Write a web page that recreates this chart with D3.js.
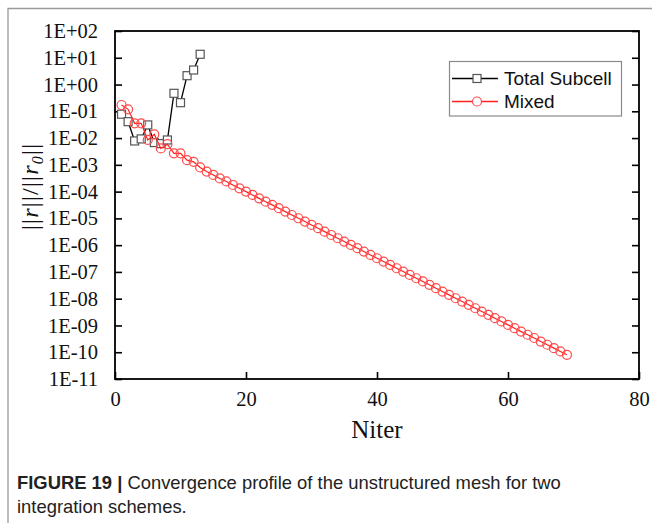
<!DOCTYPE html>
<html>
<head>
<meta charset="utf-8">
<script src="https://cdn.jsdelivr.net/npm/d3@7"></script>
<style>
  html, body { margin: 0; padding: 0; background: #fff; }
  svg { display: block; }
</style>
</head>
<body>
<svg id="chart" width="652" height="523"></svg>
<script>
// Residual history ||r||/||r0|| versus iteration count
const totalIter = [1, 2, 3, 4, 5, 6, 7, 8, 9, 10, 11, 12, 13];
const totalRes = [0.078, 0.041, 0.0078, 0.0093, 0.031, 0.0068, 0.0062, 0.0085, 0.47, 0.21, 2.14, 3.49, 13.5];

const mixedIter = d3.range(1, 70);
const mixedRes = [
  0.172, 0.119, 0.0356, 0.0356, 0.0085, 0.0138, 0.0041, 0.0059, 0.0027, 0.0027,
  0.0015, 0.0013, 8.0e-4, 5.6e-4, 4.2e-4, 3.1e-4, 2.4e-4, 1.77e-4, 1.33e-4, 1.0e-4,
  7.5e-5, 5.6e-5, 4.2e-5, 3.2e-5, 2.4e-5, 1.79e-5, 1.34e-5, 1.01e-5, 7.6e-6, 5.7e-6,
  4.3e-6, 3.2e-6, 2.4e-6, 1.81e-6, 1.36e-6, 1.02e-6, 7.7e-7, 5.75e-7, 4.3e-7, 3.24e-7,
  2.44e-7, 1.83e-7, 1.37e-7, 1.03e-7, 7.7e-8, 5.8e-8, 4.4e-8, 3.3e-8, 2.47e-8, 1.85e-8,
  1.39e-8, 1.04e-8, 7.8e-9, 5.9e-9, 4.4e-9, 3.3e-9, 2.5e-9, 1.87e-9, 1.41e-9, 1.05e-9,
  7.9e-10, 5.9e-10, 4.5e-10, 3.4e-10, 2.5e-10, 1.9e-10, 1.42e-10, 1.07e-10, 8.0e-11
];

const xTicks = [0, 20, 40, 60, 80];
const yTicks = [1e2, 1e1, 1e0, 1e-1, 1e-2, 1e-3, 1e-4, 1e-5, 1e-6, 1e-7, 1e-8, 1e-9, 1e-10, 1e-11];
const seriesNames = ["Total Subcell", "Mixed"];
const captionBold = "FIGURE 19 |";
const captionRest = " Convergence profile of the unstructured mesh for two";
const captionLine2 = "integration schemes.";

const svg = d3.select("#chart");
const plot = { left: 115, right: 639, top: 31, bottom: 379 };

const x = d3.scaleLinear().domain([0, 80]).range([plot.left, plot.right]);
const y = d3.scaleLog().domain([1e-11, 1e2]).range([plot.bottom, plot.top]);

// outer figure frame (top and left edges)
svg.append("path")
  .attr("d", "M8,523 V8.5 H652")
  .attr("fill", "none").attr("stroke", "#9a9a9a").attr("stroke-width", 1.3);

const fmtExp = v => {
  const e = Math.round(Math.log10(v));
  const s = e < 0 ? "-" : "+";
  return "1E" + s + String(Math.abs(e)).padStart(2, "0");
};

const serif = "'Liberation Serif', 'Times New Roman', serif";
const sans = "'Liberation Sans', Arial, Helvetica, sans-serif";

// axes with inward ticks
const tickLen = 7;
const gx = svg.append("g").attr("transform", `translate(0,${plot.bottom})`)
  .call(d3.axisBottom(x).tickValues(xTicks).tickSizeInner(-tickLen).tickSizeOuter(0).tickPadding(12));
const gy = svg.append("g").attr("transform", `translate(${plot.left},0)`)
  .call(d3.axisLeft(y).tickValues(yTicks).tickFormat(fmtExp).tickSizeInner(-tickLen).tickSizeOuter(0).tickPadding(17));
const gr = svg.append("g").attr("transform", `translate(${plot.right},0)`)
  .call(d3.axisRight(y).tickValues(yTicks).tickFormat("").tickSizeInner(-tickLen).tickSizeOuter(0));

[gx, gy, gr].forEach(g => {
  g.select(".domain").remove();
  g.selectAll(".tick line").attr("stroke", "#000").attr("stroke-width", 1.6);
  g.selectAll(".tick text").attr("font-family", serif).attr("font-size", 20.5).attr("fill", "#111");
});
gx.selectAll(".tick text").attr("dy", "0.71em");

// plot frame
svg.append("rect")
  .attr("x", plot.left).attr("y", plot.top)
  .attr("width", plot.right - plot.left).attr("height", plot.bottom - plot.top)
  .attr("fill", "none").attr("stroke", "#000").attr("stroke-width", 1.8);

// axis titles
svg.append("text")
  .attr("x", x(40)).attr("y", 438)
  .attr("text-anchor", "middle")
  .attr("font-family", serif).attr("font-size", 25).attr("fill", "#111")
  .text("Niter");

const yl = svg.append("text")
  .attr("transform", `translate(38,187) rotate(-90)`)
  .attr("text-anchor", "middle")
  .attr("textLength", 86).attr("lengthAdjust", "spacing")
  .attr("font-family", serif).attr("font-size", 24).attr("fill", "#111");
yl.append("tspan").text("||");
yl.append("tspan").attr("font-style", "italic").text("r");
yl.append("tspan").text("||/||");
yl.append("tspan").attr("font-style", "italic").text("r");
yl.append("tspan").attr("font-style", "italic").attr("font-size", 16).attr("dy", 5).text("0");
yl.append("tspan").attr("dy", -5).text("||");

// series
const line = d3.line().x(d => x(d[0])).y(d => y(d[1]));
const totalData = totalIter.map((n, i) => [n, totalRes[i]]);
const mixedData = mixedIter.map((n, i) => [n, mixedRes[i]]);

svg.append("path").datum(totalData)
  .attr("d", line).attr("fill", "none").attr("stroke", "#000").attr("stroke-width", 1.3);
svg.append("g").selectAll("rect").data(totalData).join("rect")
  .attr("x", d => x(d[0]) - 4).attr("y", d => y(d[1]) - 4)
  .attr("width", 8).attr("height", 8)
  .attr("fill", "#fff").attr("stroke", "#555").attr("stroke-width", 1.2);

svg.append("path").datum(mixedData)
  .attr("d", line).attr("fill", "none").attr("stroke", "#ff2020").attr("stroke-width", 1.2);
svg.append("g").selectAll("circle").data(mixedData).join("circle")
  .attr("cx", d => x(d[0])).attr("cy", d => y(d[1])).attr("r", 4.5)
  .attr("fill", "none").attr("stroke", "#ff4a4a").attr("stroke-width", 1.2);

// legend
const lg = svg.append("g");
lg.append("rect").attr("x", 449.5).attr("y", 61.5).attr("width", 172).attr("height", 54.5)
  .attr("fill", "#fff").attr("stroke", "#8a8a8a").attr("stroke-width", 1.2);
const legendRows = [
  { name: seriesNames[0], y: 78.5, color: "#000", marker: "square" },
  { name: seriesNames[1], y: 101.5, color: "#ff2020", marker: "circle" }
];
legendRows.forEach(r => {
  lg.append("line").attr("x1", 452).attr("x2", 498).attr("y1", r.y).attr("y2", r.y)
    .attr("stroke", r.color).attr("stroke-width", 1.3);
  if (r.marker === "square") {
    lg.append("rect").attr("x", 473).attr("y", r.y - 4).attr("width", 8).attr("height", 8)
      .attr("fill", "#fff").attr("stroke", "#555").attr("stroke-width", 1.2);
  } else {
    lg.append("circle").attr("cx", 477).attr("cy", r.y).attr("r", 4.5)
      .attr("fill", "#fff").attr("stroke", "#ff4a4a").attr("stroke-width", 1.2);
  }
  lg.append("text").attr("x", 504).attr("y", r.y).attr("dy", "0.35em")
    .attr("font-family", sans).attr("font-size", 19).attr("fill", "#111")
    .text(r.name);
});

// caption
const cap = svg.append("text").attr("x", 17).attr("y", 489)
  .attr("font-family", sans).attr("font-size", 18.4).attr("fill", "#222");
cap.append("tspan").attr("font-weight", "bold").text(captionBold);
cap.append("tspan").text(captionRest);
svg.append("text").attr("x", 17).attr("y", 513)
  .attr("font-family", sans).attr("font-size", 18.4).attr("fill", "#222")
  .text(captionLine2);
</script>
</body>
</html>
